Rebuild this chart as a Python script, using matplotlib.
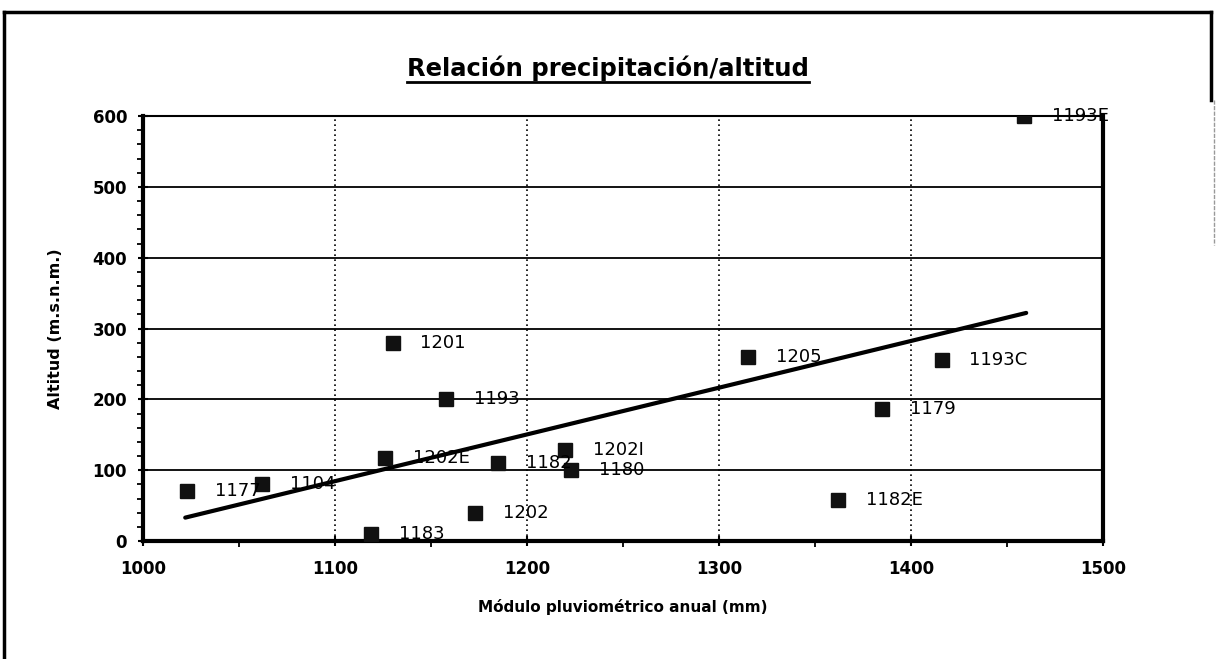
import matplotlib
matplotlib.use("Agg")
import matplotlib.pyplot as plt
from matplotlib.ticker import MultipleLocator
from matplotlib.lines import Line2D

# Data
stations = ["1177", "1104", "1202E", "1182", "1202I", "1180", "1183", "1202",
            "1201", "1193", "1205", "1193C", "1179", "1182E", "1193E"]
precip = [1023, 1062, 1126, 1185, 1220, 1223, 1119, 1173,
          1130, 1158, 1315, 1416, 1385, 1362, 1459]
altitude = [70, 80, 117, 110, 128, 100, 10, 40,
            280, 200, 260, 255, 187, 58, 600]
trend_x = [1022, 1460]
trend_y = [33, 322]

W, H = 1217, 659
fig = plt.figure(figsize=(W / 100, H / 100), dpi=100)
plt.rcParams['font.family'] = ['DejaVu Sans']

L, R, T, B = 143, 1103, 116, 541
ax = fig.add_axes([L / W, 1 - B / H, (R - L) / W, (B - T) / H])
ax.set_xlim(1000, 1500)
ax.set_ylim(0, 600)

# grid
for yv in range(100, 601, 100):
    ax.axhline(yv, color='black', lw=1.3, zorder=1)
for xv in range(1100, 1401, 100):
    ax.axvline(xv, color='black', lw=1.2, ls=(0, (1, 2)), zorder=1)

ax.plot(trend_x, trend_y, color='black', lw=3, zorder=3, solid_capstyle='round')
ax.plot(precip, altitude, ls='none', marker='s', ms=10.5, color='#111111', zorder=4)
for s, xv, yv in zip(stations, precip, altitude):
    ax.annotate(s, (xv, yv), xytext=(20, 0), textcoords='offset points',
                va='center', ha='left', fontsize=13, color='black', zorder=5,
                annotation_clip=False)

for side in ['left', 'bottom', 'right']:
    ax.spines[side].set_linewidth(3)
ax.spines['top'].set_linewidth(1.5)

ax.xaxis.set_major_locator(MultipleLocator(100))
ax.xaxis.set_minor_locator(MultipleLocator(50))
ax.yaxis.set_major_locator(MultipleLocator(100))
ax.yaxis.set_minor_locator(MultipleLocator(20))
ax.tick_params(axis='both', which='major', direction='inout', length=7, width=1.5,
               labelsize=12)
ax.tick_params(axis='x', which='major', pad=10.5)
ax.tick_params(axis='y', which='major', pad=8)
ax.tick_params(axis='both', which='minor', direction='out', length=4, width=1.3)
for lab in ax.get_xticklabels() + ax.get_yticklabels():
    lab.set_fontweight('bold')

ax.set_xlabel("Módulo pluviométrico anual (mm)", fontsize=11, fontweight='bold', labelpad=15)
ax.set_ylabel("Altitud (m.s.n.m.)", fontsize=11.5, fontweight='bold', labelpad=21.5)

# title with underline
title = fig.text(608 / W, 1 - 68 / H, "Relación precipitación/altitud", ha='center',
                 va='center', fontsize=17.5, fontweight='bold')
fig.canvas.draw()
bb = title.get_window_extent(renderer=fig.canvas.get_renderer())
fig.add_artist(Line2D([bb.x0 / W, bb.x1 / W], [(bb.y0 - 1) / H, (bb.y0 - 1) / H],
                      color='black', lw=2, transform=fig.transFigure))

# outer frame (scanned: left and top full, right only partly visible)
def fy(p):
    return 1 - p / H
fig.add_artist(Line2D([4 / W, 4 / W], [fy(12), fy(665)], color='black', lw=2.5,
                      transform=fig.transFigure, solid_capstyle='projecting'))
fig.add_artist(Line2D([4 / W, 1211 / W], [fy(12), fy(12)], color='black', lw=2.5,
                      transform=fig.transFigure, solid_capstyle='projecting'))
fig.add_artist(Line2D([1211 / W, 1211 / W], [fy(12), fy(100)], color='black', lw=2.5,
                      transform=fig.transFigure, solid_capstyle='projecting'))
fig.add_artist(Line2D([1214 / W, 1214 / W], [fy(100), fy(245)], color='#999999', lw=1,
                      ls=(0, (3, 1)), transform=fig.transFigure))

fig.savefig("out.png", dpi=100)
